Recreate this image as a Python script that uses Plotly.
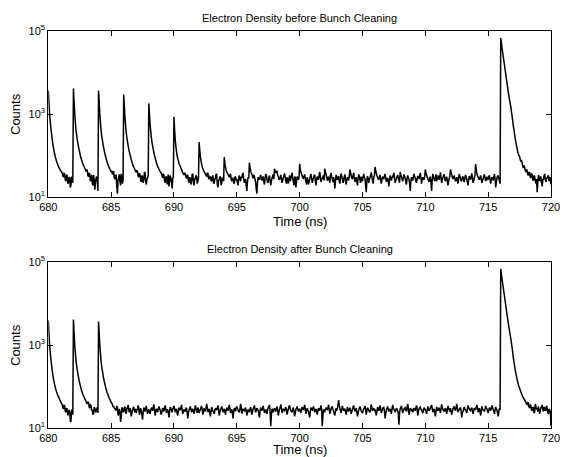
import plotly.graph_objects as go

# Each row = one nanosecond of samples (20 samples per ns, 0.05 ns apart),
# starting at 680 ns; the final row holds the single sample at 720 ns.
t_first = 680

counts_before = [
    [3700, 1900, 1000, 680, 480, 350, 260, 200, 160, 130, 110, 95, 84, 74, 66, 60, 56, 51, 48, 45],
    [43, 40, 38, 33, 30, 37, 36, 26, 24, 34, 33, 21, 22, 30, 29, 17, 19, 31, 27, 22],
    [4100, 2000, 1050, 650, 420, 320, 250, 200, 165, 138, 118, 100, 88, 78, 70, 63, 58, 54, 50, 46],
    [41, 46, 44, 33, 31, 38, 36, 24, 26, 34, 22, 19, 34, 27, 15, 22, 28, 31, 24, 14],
    [3700, 1900, 980, 620, 400, 300, 240, 190, 158, 132, 112, 97, 85, 75, 67, 61, 55, 51, 47, 44],
    [40, 43, 35, 38, 42, 29, 27, 34, 33, 18, 12, 25, 30, 35, 24, 19, 36, 31, 21, 26],
    [2950, 1550, 820, 530, 360, 275, 215, 175, 145, 122, 105, 92, 80, 71, 63, 57, 52, 49, 45, 42],
    [39, 44, 41, 32, 30, 37, 35, 25, 23, 33, 31, 22, 26, 40, 38, 24, 20, 27, 29, 33],
    [1800, 1000, 560, 380, 270, 210, 170, 140, 118, 101, 88, 77, 68, 61, 55, 51, 47, 44, 41, 39],
    [37, 33, 29, 36, 34, 25, 22, 30, 31, 20, 26, 35, 18, 23, 33, 29, 24, 16, 28, 30],
    [860, 420, 240, 165, 125, 100, 85, 74, 65, 59, 55, 50, 46, 42, 38, 36, 34, 38, 36, 31],
    [28, 34, 33, 24, 22, 30, 27, 20, 25, 36, 35, 22, 19, 28, 27, 33, 31, 21, 24, 29],
    [212, 140, 95, 74, 62, 54, 48, 44, 41, 38, 36, 33, 32, 37, 38, 28, 27, 31, 30, 25],
    [24, 31, 33, 22, 21, 27, 28, 36, 35, 20, 17, 25, 26, 31, 30, 19, 22, 28, 29, 24],
    [91, 66, 52, 45, 40, 37, 35, 32, 30, 34, 36, 27, 24, 29, 28, 22, 21, 30, 31, 26],
    [26, 22, 19, 29, 33, 27, 24, 31, 29, 35, 38, 26, 22, 25, 27, 18, 14, 24, 30, 28],
    [67, 52, 42, 38, 35, 31, 28, 33, 32, 26, 23, 15, 12, 24, 30, 27, 26, 31, 34, 29],
    [25, 30, 31, 23, 20, 29, 36, 33, 27, 22, 23, 30, 33, 25, 19, 24, 28, 32, 35, 27],
    [48, 41, 38, 42, 42, 33, 31, 27, 26, 30, 34, 28, 22, 25, 29, 33, 37, 30, 24, 21],
    [30, 26, 21, 28, 33, 24, 27, 34, 38, 29, 23, 19, 29, 31, 17, 24, 31, 28, 26, 30],
    [63, 47, 40, 36, 33, 29, 28, 31, 35, 27, 24, 20, 30, 26, 20, 23, 27, 32, 36, 28],
    [22, 25, 29, 33, 34, 24, 19, 27, 31, 28, 26, 34, 40, 30, 23, 26, 28, 31, 33, 25],
    [48, 40, 36, 30, 25, 28, 31, 26, 22, 33, 38, 30, 27, 23, 30, 25, 16, 24, 34, 29],
    [26, 30, 32, 24, 21, 29, 37, 31, 28, 22, 24, 31, 35, 27, 20, 25, 30, 28, 25, 32],
    [46, 39, 33, 28, 27, 33, 38, 29, 23, 27, 30, 24, 19, 28, 35, 31, 26, 22, 31, 27],
    [24, 31, 36, 30, 28, 19, 13, 25, 32, 28, 22, 27, 29, 34, 39, 30, 25, 21, 30, 33],
    [53, 44, 37, 33, 30, 27, 26, 31, 34, 25, 21, 27, 31, 29, 27, 32, 36, 28, 23, 26],
    [29, 24, 18, 26, 33, 29, 25, 30, 30, 34, 38, 28, 22, 25, 28, 31, 34, 29, 26, 22],
    [40, 35, 31, 27, 24, 29, 35, 31, 28, 23, 20, 28, 33, 29, 27, 21, 14, 24, 30, 27],
    [25, 30, 36, 31, 29, 24, 22, 28, 32, 30, 27, 33, 38, 29, 21, 26, 30, 27, 26, 31],
    [46, 39, 34, 30, 28, 25, 23, 28, 31, 22, 14, 26, 36, 31, 27, 24, 30, 35, 24, 28],
    [33, 29, 26, 31, 39, 29, 22, 26, 29, 33, 35, 28, 24, 27, 31, 25, 19, 24, 28, 31],
    [46, 40, 35, 30, 27, 31, 32, 28, 24, 27, 30, 25, 21, 28, 36, 31, 28, 24, 25, 30],
    [31, 26, 23, 29, 34, 30, 27, 22, 19, 27, 32, 29, 26, 31, 37, 29, 22, 25, 29, 33],
    [62, 48, 38, 33, 30, 27, 26, 30, 33, 27, 22, 25, 28, 32, 35, 29, 24, 27, 31, 26],
    [27, 31, 33, 26, 21, 26, 30, 28, 25, 31, 36, 27, 17, 23, 29, 32, 32, 28, 24, 21],
    [68000, 52000, 40000, 31000, 24000, 19000, 15000, 11500, 9000, 7000, 5500, 4300, 3400, 2700, 2200, 1800, 1500, 1150, 900, 700],
    [520, 420, 330, 260, 210, 175, 150, 125, 110, 100, 95, 80, 72, 78, 66, 55, 50, 58, 52, 44],
    [40, 46, 44, 35, 33, 40, 38, 30, 29, 36, 35, 26, 25, 33, 31, 24, 21, 27, 13, 22],
    [34, 29, 24, 31, 30, 22, 18, 26, 27, 33, 36, 26, 23, 28, 29, 32, 33, 24, 26, 30],
    [20],
]

counts_after = [
    [3900, 1950, 1000, 680, 480, 350, 260, 200, 160, 132, 112, 96, 85, 76, 68, 62, 57, 53, 49, 46],
    [42, 39, 37, 31, 29, 35, 34, 25, 24, 30, 29, 20, 22, 27, 26, 15, 14, 24, 28, 21],
    [4100, 2000, 1050, 660, 430, 325, 255, 205, 168, 140, 120, 103, 90, 80, 72, 65, 60, 55, 51, 47],
    [44, 41, 38, 43, 41, 32, 30, 36, 35, 26, 27, 21, 22, 32, 30, 25, 24, 29, 31, 23],
    [3700, 1900, 990, 630, 410, 305, 245, 195, 160, 134, 115, 99, 87, 77, 69, 63, 57, 52, 48, 45],
    [42, 39, 37, 33, 33, 30, 29, 27, 27, 34, 31, 20, 22, 29, 25, 14, 18, 31, 30, 24],
    [25, 30, 33, 24, 22, 29, 31, 36, 28, 24, 30, 26, 19, 23, 27, 31, 32, 26, 24, 29],
    [23, 27, 28, 35, 30, 21, 25, 30, 26, 20, 16, 24, 31, 28, 25, 30, 34, 27, 22, 26],
    [28, 24, 22, 27, 31, 29, 26, 32, 37, 28, 20, 24, 29, 27, 24, 29, 33, 30, 27, 23],
    [21, 26, 30, 28, 25, 31, 35, 29, 23, 26, 28, 24, 18, 25, 32, 29, 26, 24, 29, 31],
    [34, 29, 24, 27, 29, 23, 20, 26, 31, 28, 27, 31, 36, 28, 22, 25, 28, 26, 25, 30],
    [30, 24, 17, 23, 27, 30, 33, 28, 24, 27, 29, 25, 22, 28, 35, 30, 26, 23, 31, 28],
    [23, 26, 28, 31, 34, 27, 21, 25, 30, 27, 25, 30, 38, 31, 24, 26, 29, 24, 19, 25],
    [32, 28, 26, 24, 22, 27, 30, 28, 27, 31, 35, 27, 20, 24, 28, 30, 33, 28, 24, 27],
    [29, 25, 21, 27, 31, 28, 26, 30, 36, 29, 23, 26, 28, 23, 17, 25, 30, 28, 25, 31],
    [33, 30, 27, 25, 24, 29, 38, 31, 22, 26, 29, 27, 26, 29, 31, 26, 20, 24, 28, 25],
    [25, 29, 32, 26, 21, 25, 29, 31, 35, 28, 24, 27, 30, 28, 27, 22, 18, 25, 31, 28],
    [26, 30, 34, 28, 23, 25, 28, 24, 22, 27, 31, 33, 36, 25, 11, 20, 29, 26, 24, 28],
    [30, 27, 25, 29, 33, 27, 20, 24, 28, 31, 37, 30, 23, 26, 29, 27, 26, 29, 32, 27],
    [21, 25, 29, 33, 35, 29, 26, 25, 24, 28, 31, 25, 19, 23, 28, 30, 33, 29, 25, 27],
    [29, 26, 23, 28, 32, 29, 27, 31, 36, 28, 22, 26, 30, 27, 25, 21, 18, 26, 31, 28],
    [27, 30, 33, 28, 24, 26, 29, 25, 21, 26, 30, 28, 26, 30, 35, 28, 11, 20, 28, 26],
    [24, 28, 31, 29, 27, 31, 36, 29, 22, 25, 29, 31, 33, 28, 25, 22, 20, 26, 30, 27],
    [28, 36, 47, 35, 30, 26, 23, 28, 34, 29, 26, 28, 29, 25, 21, 26, 32, 28, 25, 27],
    [31, 27, 22, 25, 28, 32, 35, 29, 25, 28, 30, 24, 19, 23, 27, 30, 33, 29, 26, 24],
    [23, 26, 29, 31, 34, 28, 21, 26, 31, 29, 27, 25, 24, 29, 37, 30, 26, 28, 30, 27],
    [28, 24, 20, 26, 32, 29, 26, 30, 35, 28, 23, 26, 29, 31, 31, 25, 17, 22, 27, 30],
    [33, 29, 25, 27, 29, 25, 22, 29, 36, 30, 28, 26, 24, 27, 30, 28, 26, 22, 12, 23],
    [29, 31, 34, 28, 23, 26, 28, 30, 31, 27, 25, 31, 38, 29, 21, 25, 30, 28, 27, 29],
    [24, 27, 30, 28, 26, 31, 35, 28, 20, 25, 29, 31, 32, 28, 27, 25, 23, 27, 31, 28],
    [28, 25, 22, 27, 33, 29, 26, 28, 30, 33, 36, 29, 24, 26, 29, 24, 19, 25, 32, 29],
    [26, 28, 31, 27, 23, 29, 37, 31, 28, 26, 25, 28, 30, 26, 22, 28, 34, 30, 27, 25],
    [30, 26, 21, 25, 29, 31, 33, 28, 26, 31, 38, 29, 24, 26, 28, 30, 31, 25, 18, 24],
    [25, 29, 32, 28, 27, 25, 23, 29, 35, 31, 29, 27, 26, 29, 31, 27, 22, 26, 30, 28],
    [28, 32, 36, 30, 24, 27, 30, 25, 20, 26, 33, 29, 27, 26, 25, 29, 34, 31, 29, 26],
    [23, 27, 31, 29, 26, 30, 35, 31, 28, 25, 22, 27, 32, 29, 27, 23, 19, 25, 30, 27],
    [68000, 52000, 40000, 31000, 24000, 19000, 15000, 11500, 9000, 7000, 5500, 4300, 3400, 2700, 2200, 1750, 1450, 1120, 880, 680],
    [500, 400, 320, 255, 210, 178, 150, 128, 112, 100, 92, 82, 75, 68, 62, 57, 54, 50, 48, 44],
    [42, 38, 37, 41, 40, 32, 30, 36, 35, 27, 26, 32, 31, 23, 24, 38, 33, 28, 30, 25],
    [33, 28, 22, 27, 30, 33, 36, 28, 25, 31, 31, 26, 27, 34, 30, 23, 22, 29, 27, 24],
    [11],
]

x_ticks = [680, 685, 690, 695, 700, 705, 710, 715, 720]
y_ticks = [10, 1000, 100000]
y_ticktext = ["10<sup>1</sup>", "10<sup>3</sup>", "10<sup>5</sup>"]
titles = ["Electron Density before Bunch Cleaning", "Electron Density after Bunch Cleaning"]
x_label = "Time (ns)"
y_label = "Counts"


def flatten(rows):
    xs, ys = [], []
    for k, row in enumerate(rows):
        n = len(row)
        for j, v in enumerate(row):
            xs.append(round(t_first + k + j / max(n, 1), 4))
            ys.append(v)
    return xs, ys


tb, yb = flatten(counts_before)
ta, ya = flatten(counts_after)

W, H = 562, 457
FONT = "Liberation Sans, Arial, Helvetica, sans-serif"

fig = go.Figure()
fig.add_trace(go.Scatter(x=tb, y=yb, mode="lines",
                         line=dict(color="black", width=1.5, simplify=False),
                         xaxis="x", yaxis="y", showlegend=False, hoverinfo="skip"))
fig.add_trace(go.Scatter(x=ta, y=ya, mode="lines",
                         line=dict(color="black", width=1.5, simplify=False),
                         xaxis="x2", yaxis="y2", showlegend=False, hoverinfo="skip"))

x0, x1 = 48.3 / W, 551.0 / W
top_dom = [1 - 197 / H, 1 - 31 / H]
bot_dom = [1 - 428 / H, 1 - 262 / H]

xcommon = dict(range=[680, 720], tickvals=x_ticks, ticks="inside", ticklen=5,
               tickcolor="black", showline=True, linecolor="black", linewidth=1,
               mirror="ticks", showgrid=False, zeroline=False, domain=[x0, x1],
               automargin=False,
               tickfont=dict(family=FONT, size=11, color="black"))
ycommon = dict(type="log", range=[1, 5], tickvals=y_ticks, ticktext=y_ticktext,
               ticks="inside", ticklen=5, tickcolor="black", showline=True,
               linecolor="black", linewidth=1, mirror="ticks", showgrid=False,
               zeroline=False, automargin=False,
               tickfont=dict(family=FONT, size=11, color="black"))

fig.update_layout(
    template="none",
    width=W, height=H,
    margin=dict(l=0, r=0, t=0, b=0, pad=0),
    paper_bgcolor="white", plot_bgcolor="white",
    font=dict(family=FONT, color="black"),
    xaxis=dict(xcommon, anchor="y"),
    yaxis=dict(ycommon, domain=top_dom, anchor="x"),
    xaxis2=dict(xcommon, anchor="y2"),
    yaxis2=dict(ycommon, domain=bot_dom, anchor="x2"),
)

xc = (x0 + x1) / 2
ann = [
    (titles[0], xc, 1 - 18 / H, 11, 0),
    (titles[1], xc, 1 - 249 / H, 11, 0),
    (x_label, xc, 1 - 221.5 / H, 13, 0),
    (x_label, xc, 1 - 449.5 / H, 13, 0),
    (y_label, 15 / W, 1 - 114 / H, 13, -90),
    (y_label, 15 / W, 1 - 345 / H, 13, -90),
]
for text, ax, ay, size, rot in ann:
    fig.add_annotation(text=text, x=ax, y=ay, xref="paper", yref="paper",
                       showarrow=False, xanchor="center", yanchor="middle",
                       textangle=rot, font=dict(family=FONT, size=size, color="black"))

fig.write_html("out.html",
               config={"displayModeBar": False, "staticPlot": True},
               post_script="document.body.style.margin='0px';"
                           "document.body.style.overflow='hidden';")
